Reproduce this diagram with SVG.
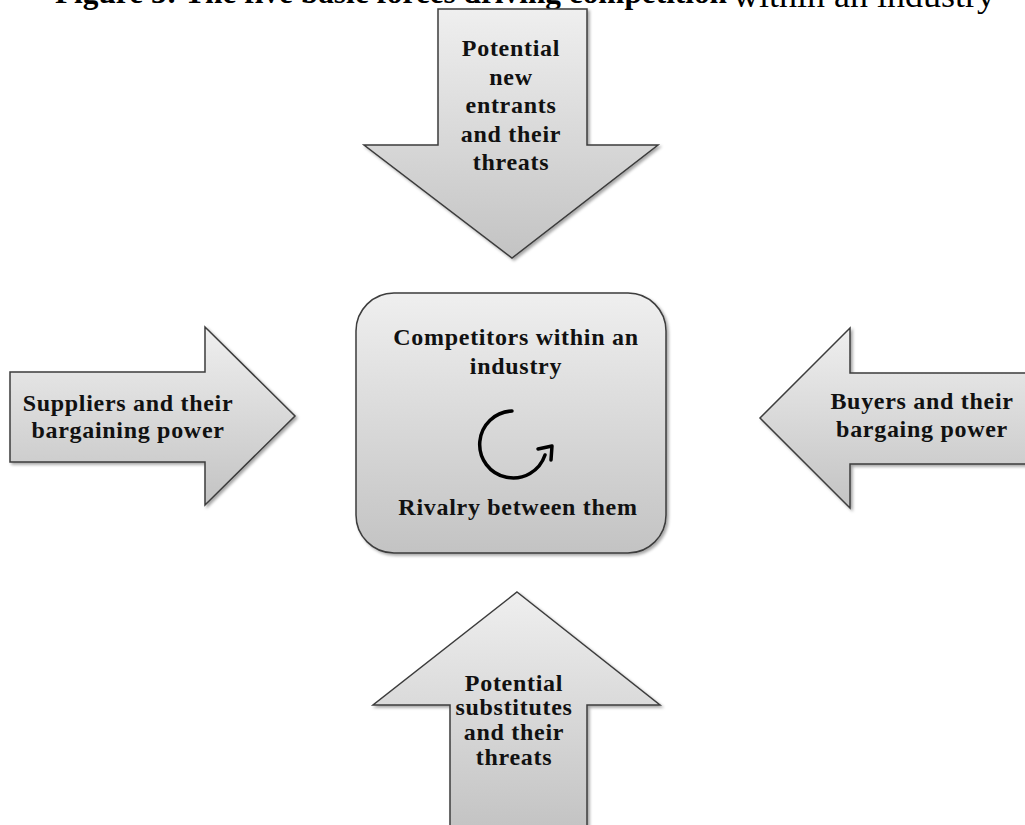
<svg xmlns="http://www.w3.org/2000/svg" width="1025" height="825" viewBox="0 0 1025 825">
  <defs>
    <linearGradient id="shade" x1="0" y1="0" x2="0" y2="1">
      <stop offset="0" stop-color="#efefef"/>
      <stop offset="1" stop-color="#c3c3c3"/>
    </linearGradient>
    <filter id="drop" x="-10%" y="-10%" width="125%" height="125%">
      <feDropShadow dx="2" dy="2" stdDeviation="1.5" flood-color="#000" flood-opacity="0.35"/>
    </filter>
  </defs>
  <style>
    .shape { fill: url(#shade); stroke: #3c3c3c; stroke-width: 1.5; filter: url(#drop); }
    .lbl { font-family: "Liberation Serif", "Times New Roman", serif; font-weight: bold; font-size: 24px; letter-spacing: 0.7px; fill: #111; text-anchor: middle; }
    .title { font-family: "Liberation Serif", "Times New Roman", serif; fill: #000; }
    .cycle { fill: none; stroke: #000; stroke-width: 3.5; stroke-linecap: round; stroke-linejoin: round; }
  </style>

  <rect width="1025" height="825" fill="#fff"/>

  <!-- caption, partly clipped by the top edge -->
  <g id="caption">
    <text class="title" x="55" y="3" font-size="31" font-weight="bold" textLength="672" lengthAdjust="spacingAndGlyphs">Figure 3: The five basic forces driving competition</text>
    <text class="title" x="733" y="7" font-size="33" textLength="262" lengthAdjust="spacingAndGlyphs">within an industry</text>
  </g>

  <g id="connectors">
    <!-- top: new entrants -->
    <g id="new-entrants">
      <polygon class="shape" points="438,9 587,9 587,145 658,145 512,258 364,145 438,145"/>
      <text class="lbl" x="511" y="56">Potential</text>
      <text class="lbl" x="511" y="85">new</text>
      <text class="lbl" x="511" y="113">entrants</text>
      <text class="lbl" x="511" y="142">and their</text>
      <text class="lbl" x="511" y="170">threats</text>
    </g>

    <!-- left: suppliers -->
    <g id="suppliers">
      <polygon class="shape" points="10,372 205,372 205,327 295,416 205,505 205,462 10,462"/>
      <text class="lbl" x="128" y="411">Suppliers and their</text>
      <text class="lbl" x="128" y="438">bargaining power</text>
    </g>

    <!-- right: buyers -->
    <g id="buyers">
      <polygon class="shape" points="1028,373 850,373 850,328 760,418 850,508 850,464 1028,464"/>
      <text class="lbl" x="922" y="409">Buyers and their</text>
      <text class="lbl" x="922" y="437">bargaing power</text>
    </g>

    <!-- bottom: substitutes -->
    <g id="substitutes">
      <polygon class="shape" points="517,592 660,705 587,705 587,830 450,830 450,705 373,705"/>
      <text class="lbl" x="514" y="691">Potential</text>
      <text class="lbl" x="514" y="715">substitutes</text>
      <text class="lbl" x="514" y="740">and their</text>
      <text class="lbl" x="514" y="765">threats</text>
    </g>
  </g>

  <!-- central rivalry box -->
  <g id="competitors">
    <rect class="shape" x="356" y="293" width="310" height="260" rx="38" ry="38"/>
    <text class="lbl" x="516" y="345">Competitors within an</text>
    <text class="lbl" x="516" y="374">industry</text>
    <path class="cycle" d="M 512 411 A 33.5 33.5 0 1 0 545 455"/>
    <path class="cycle" d="M 538 449 L 552 446 L 551 460"/>
    <text class="lbl" x="518" y="515">Rivalry between them</text>
  </g>
</svg>
